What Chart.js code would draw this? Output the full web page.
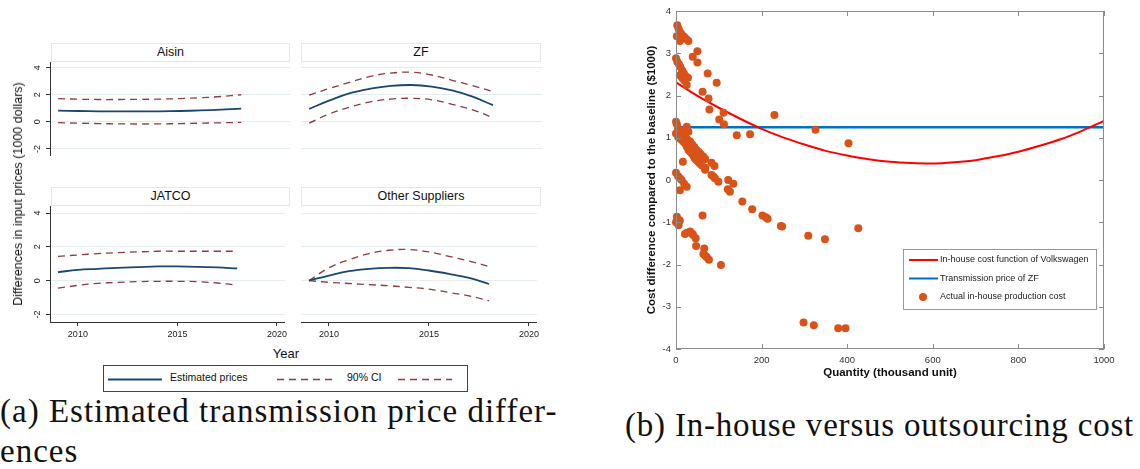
<!DOCTYPE html>
<html>
<head>
<meta charset="utf-8">
<script src="https://cdn.jsdelivr.net/npm/chart.js@4.4.0/dist/chart.umd.min.js"></script>
<style>
  body { margin: 0; width: 1140px; height: 469px; background: #fff; position: relative; overflow: hidden;
         font-family: "Liberation Sans", Arial, sans-serif; }
  canvas { position: absolute; }
  .hdr { position: absolute; box-sizing: border-box; border: 1px solid #e3e9eb; background: #fff;
         text-align: center; font-size: 12.5px; line-height: 16px; color: #111; }
  .txt { position: absolute; white-space: nowrap; color: #111; }
  .cap { position: absolute; white-space: nowrap; font-family: "Liberation Serif", serif; font-size: 33px;
         letter-spacing: 1px; line-height: 40px; color: #111; }
</style>
</head>
<body>

<div class="hdr" style="left:51px;top:43px;width:239px;height:19px;">Aisin</div>
<div class="hdr" style="left:301px;top:43px;width:240px;height:19px;">ZF</div>
<div class="hdr" style="left:51px;top:187px;width:239px;height:19px;">JATCO</div>
<div class="hdr" style="left:301px;top:187px;width:240px;height:19px;">Other Suppliers</div>

<canvas id="aisin" width="290" height="116" style="left:0;top:62px;"></canvas>
<canvas id="zf" width="241" height="116" style="left:301px;top:62px;"></canvas>
<canvas id="jatco" width="290" height="139" style="left:0;top:206px;"></canvas>
<canvas id="other" width="241" height="139" style="left:301px;top:206px;"></canvas>

<div class="txt" style="left:18px;top:194px;font-size:12.5px;transform:translate(-50%,-50%) rotate(-90deg);">Differences in input prices (1000 dollars)</div>
<div class="txt" style="left:286px;top:353px;font-size:13px;transform:translate(-50%,-50%);">Year</div>

<div style="position:absolute;left:103px;top:365px;width:365px;height:27px;box-sizing:border-box;border:1px solid #444;">
  <svg width="363" height="25" style="position:absolute;left:0;top:0;">
    <line x1="4" y1="13.5" x2="58" y2="13.5" stroke="#1a476f" stroke-width="2"/>
    <line x1="173" y1="13.5" x2="228" y2="13.5" stroke="#8f3b3f" stroke-width="1.4" stroke-dasharray="7,5"/>
    <line x1="294" y1="13.5" x2="348" y2="13.5" stroke="#8f3b3f" stroke-width="1.4" stroke-dasharray="7,5"/>
  </svg>
  <div class="txt" style="left:66px;top:5px;font-size:10.5px;">Estimated prices</div>
  <div class="txt" style="left:243px;top:5px;font-size:10.5px;">90% CI</div>
</div>

<canvas id="cost" width="540" height="390" style="left:600px;top:0;"></canvas>

<div class="cap" style="left:0;top:391px;">(a) Estimated transmission price differ-<br>ences</div>
<div class="cap" style="left:625px;top:405px;letter-spacing:0.8px;">(b) In-house versus outsourcing cost</div>

<script>
// ---- (a) estimated price differences, by supplier ----
const years = [2009, 2010, 2011, 2012, 2013, 2014, 2015, 2016, 2017, 2018];
const yearTicks = [2010, 2015, 2020];
const priceTicks = [-2, 0, 2, 4];

const aisinEst = [0.83, 0.80, 0.78, 0.77, 0.77, 0.78, 0.80, 0.84, 0.90, 0.98];
const aisinHi  = [1.72, 1.67, 1.65, 1.65, 1.66, 1.68, 1.72, 1.78, 1.87, 2.00];
const aisinLo  = [-0.06, -0.10, -0.13, -0.15, -0.16, -0.15, -0.13, -0.10, -0.07, -0.04];

const zfEst = [0.95, 1.58, 2.12, 2.45, 2.65, 2.72, 2.60, 2.32, 1.86, 1.23];
const zfHi  = [1.98, 2.47, 2.93, 3.36, 3.60, 3.66, 3.46, 3.07, 2.67, 2.24];
const zfLo  = [-0.10, 0.59, 1.09, 1.48, 1.68, 1.74, 1.63, 1.29, 0.89, 0.30];

const jatcoEst = [0.50, 0.64, 0.70, 0.76, 0.80, 0.84, 0.84, 0.82, 0.78, 0.72];
const jatcoHi  = [1.44, 1.52, 1.60, 1.66, 1.70, 1.74, 1.74, 1.74, 1.74, 1.74];
const jatcoLo  = [-0.44, -0.28, -0.16, -0.10, -0.06, -0.04, -0.04, -0.06, -0.14, -0.26];

const otherEst = [0.00, 0.30, 0.56, 0.70, 0.76, 0.74, 0.60, 0.40, 0.16, -0.20];
const otherHi  = [0.00, 0.76, 1.24, 1.60, 1.80, 1.84, 1.70, 1.44, 1.16, 0.84];
const otherLo  = [0.00, -0.10, -0.17, -0.24, -0.30, -0.40, -0.50, -0.70, -0.90, -1.20];

// ---- (b) in-house vs outsourcing ----
const qtyGrid = [0, 50, 100, 150, 200, 250, 300, 350, 400, 450, 500, 550, 600, 650, 700, 750, 800, 850, 900, 950, 1000];
const inhouseFit = [2.31, 1.99, 1.71, 1.45, 1.21, 1.01, 0.84, 0.69, 0.58, 0.49, 0.43, 0.40, 0.39, 0.42, 0.47, 0.56, 0.67, 0.81, 0.97, 1.17, 1.40];
const qtyRange = [0, 1000];
const zfPrice = 1.25;
const actualQty = [3, 6, 9, 13, 19, 24, 29, 2, 9,
  39, 50, 50,
  0, 3, 7, 10, 14, 18, 22, 28, 9, 14, 19, 25,
  74, 95, 62, 76, 78, 111, 101, 112, 142, 173, 230, 326, 403,
  0, 2, 5, 8, 12, 17, 22, 27, 33, 38, 43, 48, 53, 58, 64, 68,
  0, 5, 9, 13, 17, 21, 25, 29, 33, 37, 41, 44, 48, 52, 56, 60, 68,
  25, 29, 21, 16, 16, 83, 90,
  0, 5, 9, 13, 19, 25, 9,
  68, 83, 87, 91, 99, 122, 134, 121, 126,
  155, 178, 202, 210, 214, 245, 248, 309, 348, 426,
  2, 4, 9, 4, 6, 0, 62,
  21, 25, 33, 38, 40, 46, 47, 66, 64, 69, 72, 77, 105,
  298, 322, 379, 396];
const actualCost = [3.66, 3.58, 3.51, 3.45, 3.39, 3.34, 3.29, 3.40, 3.29,
  2.92, 3.05, 2.78,
  2.88, 2.80, 2.74, 2.68, 2.60, 2.53, 2.46, 2.42, 2.48, 2.42, 2.36, 2.25,
  2.52, 2.30, 2.09, 1.93, 1.67, 1.59, 1.43, 1.32, 1.06, 1.08, 1.54, 1.19, 0.87,
  1.38, 1.32, 1.22, 1.16, 1.10, 1.06, 1.00, 0.95, 0.91, 0.84, 0.78, 0.71, 0.66, 0.61, 0.55, 0.50,
  1.10, 1.02, 0.98, 0.95, 0.91, 0.87, 0.79, 0.71, 0.67, 0.63, 0.57, 0.51, 0.47, 0.43, 0.39, 0.35, 0.29,
  1.26, 1.14, 1.18, 1.12, 0.43, 0.41, 0.33,
  0.17, 0.09, 0.04, 0.00, -0.09, -0.16, -0.24,
  0.24, 0.12, 0.08, 0.04, -0.04, 0.00, -0.09, -0.22, -0.28,
  -0.51, -0.69, -0.84, -0.88, -0.92, -1.09, -1.10, -1.32, -1.40, -1.14,
  -0.87, -0.93, -0.96, -1.02, -1.07, -1.00, -0.84,
  -1.28, -1.25, -1.22, -1.27, -1.30, -1.38, -1.56, -1.62, -1.75, -1.80, -1.83, -1.89, -2.01,
  -3.37, -3.44, -3.51, -3.51];

const NAVY = '#1a476f';
const MAROON = '#8f3b3f';

// stata draws the y labels turned sideways
const sidewaysYLabels = {
  id: 'sidewaysYLabels',
  afterDraw(chart) {
    const { ctx } = chart;
    const y = chart.scales.y;
    ctx.save();
    ctx.fillStyle = '#222';
    ctx.font = '9px "Liberation Sans", Arial';
    ctx.textAlign = 'center';
    ctx.textBaseline = 'middle';
    priceTicks.forEach(v => {
      ctx.save();
      ctx.translate(y.right - 12, y.getPixelForValue(v));
      ctx.rotate(-Math.PI / 2);
      ctx.fillText(String(v), 0, 0);
      ctx.restore();
    });
    ctx.restore();
  }
};

function facet(id, est, hi, lo, showY, showX) {
  const pts = arr => arr.map((v, i) => ({ x: years[i], y: v }));
  const dashed = arr => ({ data: pts(arr), borderColor: MAROON, borderWidth: 1.3, borderDash: [7, 5],
    pointRadius: 0, tension: 0.4 });
  return new Chart(document.getElementById(id), {
    type: 'line',
    data: {
      datasets: [
        { data: pts(est), borderColor: NAVY, borderWidth: 1.8, pointRadius: 0, tension: 0.4 },
        dashed(hi),
        dashed(lo)
      ]
    },
    options: {
      responsive: false, animation: false, devicePixelRatio: 1,
      layout: { padding: 0 },
      plugins: { legend: { display: false }, tooltip: { enabled: false } },
      scales: {
        x: {
          type: 'linear', display: showX, min: 2008.6, max: 2020.4,
          afterBuildTicks: s => { s.ticks = yearTicks.map(v => ({ value: v })); },
          afterFit: s => { s.height = 23; },
          grid: { drawOnChartArea: false, tickLength: 4, tickColor: '#333' },
          border: { color: '#333' },
          ticks: { font: { size: 9, family: '"Liberation Sans", Arial' }, color: '#222', padding: 3,
                   maxRotation: 0, callback: v => String(v) }
        },
        y: {
          type: 'linear', min: -2.45, max: 4.42,
          afterBuildTicks: s => { s.ticks = priceTicks.map(v => ({ value: v })); },
          afterFit: s => { s.width = showY ? 50 : 0; },
          grid: { color: '#e6edef', tickColor: '#333', tickLength: 4, drawTicks: showY },
          border: { display: showY, color: '#333' },
          ticks: { display: false }
        }
      }
    },
    plugins: showY ? [sidewaysYLabels] : []
  });
}

facet('aisin', aisinEst, aisinHi, aisinLo, true, false);
facet('zf', zfEst, zfHi, zfLo, false, false);
facet('jatco', jatcoEst, jatcoHi, jatcoLo, true, true);
facet('other', otherEst, otherHi, otherLo, false, true);

// ---- matlab style box, inward ticks, legend ----
const RED = '#ff0000';
const BLUE = '#0072bd';
const ORANGE = '#d95319';
const legendItems = [
  { label: 'In-house cost function of Volkswagen', kind: 'line', color: RED },
  { label: 'Transmission price of ZF', kind: 'line', color: BLUE },
  { label: 'Actual in-house production cost', kind: 'dot', color: ORANGE }
];

const matlabAxes = {
  id: 'matlabAxes',
  afterDraw(chart) {
    const { ctx, chartArea: a, scales: { x, y } } = chart;
    ctx.save();
    ctx.strokeStyle = '#8c8c8c';
    ctx.lineWidth = 1;
    ctx.strokeRect(a.left + 0.5, a.top + 0.5, a.right - a.left - 1, a.bottom - a.top - 1);
    ctx.beginPath();
    x.ticks.forEach(t => {
      const px = Math.round(x.getPixelForValue(t.value)) + 0.5;
      ctx.moveTo(px, a.bottom); ctx.lineTo(px, a.bottom - 5);
      ctx.moveTo(px, a.top); ctx.lineTo(px, a.top + 5);
    });
    y.ticks.forEach(t => {
      const py = Math.round(y.getPixelForValue(t.value)) + 0.5;
      ctx.moveTo(a.left, py); ctx.lineTo(a.left + 5, py);
      ctx.moveTo(a.right, py); ctx.lineTo(a.right - 5, py);
    });
    ctx.stroke();

    // legend box
    const w = 193, h = 60;
    const bx = a.right - 8 - w, by = a.bottom - 40 - h;
    ctx.fillStyle = '#fff';
    ctx.fillRect(bx, by, w, h);
    ctx.strokeStyle = '#9a9a9a';
    ctx.strokeRect(bx + 0.5, by + 0.5, w, h);
    ctx.font = '9px "Liberation Sans", Arial';
    ctx.textBaseline = 'middle';
    legendItems.forEach((it, i) => {
      const cy = by + 11 + i * 18.5;
      if (it.kind === 'line') {
        ctx.strokeStyle = it.color;
        ctx.lineWidth = 2;
        ctx.beginPath(); ctx.moveTo(bx + 6, cy); ctx.lineTo(bx + 35, cy); ctx.stroke();
      } else {
        ctx.fillStyle = it.color;
        ctx.beginPath(); ctx.arc(bx + 20, cy, 4, 0, Math.PI * 2); ctx.fill();
      }
      ctx.fillStyle = '#222';
      ctx.fillText(it.label, bx + 37, cy);
    });
    ctx.restore();
  }
};

new Chart(document.getElementById('cost'), {
  type: 'scatter',
  data: {
    datasets: [
      { data: actualQty.map((q, i) => ({ x: q, y: actualCost[i] })), backgroundColor: ORANGE,
        borderWidth: 0, pointRadius: 4, clip: false, order: 0 },
      { data: qtyGrid.map((q, i) => ({ x: q, y: inhouseFit[i] })), showLine: true, borderColor: RED,
        borderWidth: 2, pointRadius: 0, tension: 0.3, order: 1 },
      { data: qtyRange.map(q => ({ x: q, y: zfPrice })), showLine: true, borderColor: BLUE,
        borderWidth: 2.5, pointRadius: 0, order: 2 }
    ]
  },
  options: {
    responsive: false, animation: false, devicePixelRatio: 1,
    layout: { padding: { top: 11, right: 36, left: 0, bottom: 0 } },
    plugins: { legend: { display: false }, tooltip: { enabled: false } },
    scales: {
      x: {
        min: 0, max: 1000,
        afterFit: s => { s.height = 41; },
        grid: { display: false, drawTicks: false },
        border: { display: false },
        ticks: { stepSize: 200, padding: 6, color: '#333', maxRotation: 0, callback: v => String(v),
                 font: { size: 9.5, family: '"Liberation Sans", Arial' } },
        title: { display: true, text: 'Quantity (thousand unit)', color: '#111',
                 font: { size: 11.5, weight: 'bold', family: '"Liberation Sans", Arial' },
                 padding: { top: 0, bottom: 10 } }
      },
      y: {
        min: -4, max: 4,
        afterFit: s => { s.width = 76; },
        grid: { display: false, drawTicks: false },
        border: { display: false },
        ticks: { stepSize: 1, padding: 5, color: '#333',
                 font: { size: 9.5, family: '"Liberation Sans", Arial' } },
        title: { display: true, text: 'Cost difference compared to the baseline ($1000)', color: '#111',
                 font: { size: 11.5, weight: 'bold', family: '"Liberation Sans", Arial' },
                 padding: { top: 45, bottom: 0 } }
      }
    }
  },
  plugins: [matlabAxes]
});
</script>
</body>
</html>
